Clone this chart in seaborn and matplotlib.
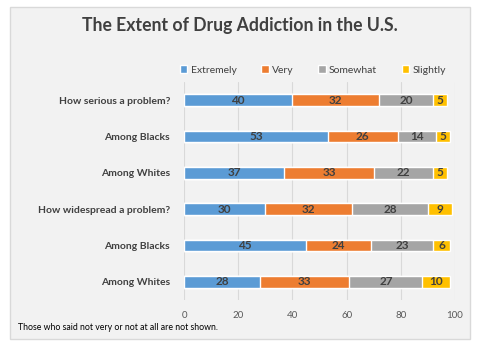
import matplotlib
matplotlib.use('Agg')
import matplotlib.pyplot as plt
import seaborn as sns
import numpy as np
import pandas as pd
from matplotlib.patches import Rectangle, Patch

sns.set_style("white")
plt.rcParams['font.family'] = ['Lato', 'DejaVu Sans']

# -- data --
questions = ["How serious a problem?", "Among Blacks", "Among Whites",
             "How widespread a problem?", "Among Blacks ", "Among Whites "]
levels = ["Extremely", "Very", "Somewhat", "Slightly"]
extremely = [40, 53, 37, 30, 45, 28]
very = [32, 26, 33, 32, 24, 33]
somewhat = [20, 14, 22, 28, 23, 27]
slightly = [5, 5, 5, 9, 6, 10]
colors = ["#5B9BD5", "#ED7D31", "#A5A5A5", "#FFC000"]

df = pd.DataFrame({"q": questions, "Extremely": extremely, "Very": very,
                   "Somewhat": somewhat, "Slightly": slightly})
cum = df[levels].cumsum(axis=1)

fig = plt.figure(figsize=(4.8, 3.5), dpi=100)
fig.patches.append(Rectangle((10/480, 1-339/350), 460/480, 332/350, transform=fig.transFigure,
                             facecolor="#F2F2F2", edgecolor="#D9D9D9", lw=1, zorder=-5))
ax = fig.add_axes([184/480, 1-300/350, 271/480, 218/350])
ax.set_facecolor("none")

# stacked bars: draw cumulative totals from largest to smallest
for lev, col in reversed(list(zip(levels, colors))):
    sns.barplot(x=cum[lev], y=df["q"], color=col, width=0.33, ax=ax,
                saturation=1, orient="h", zorder=3)

# value labels in the middle of each segment
for i in range(len(df)):
    left = 0
    for lev in levels:
        v = df[lev].iloc[i]
        ax.text(left + v/2, i, str(v), ha="center", va="center", fontsize=8.5,
                fontweight="bold", color="#404040", zorder=4)
        left += v

ax.set_xlim(0, 100)
ax.set_ylim(5.5, -0.5)
ax.set_xticks(range(0, 101, 20))
ax.xaxis.grid(True, color="#D9D9D9", lw=0.8, zorder=0)
ax.set_axisbelow(True)
for s in ax.spines.values():
    s.set_visible(False)
ax.set_xlabel("")
ax.set_ylabel("")
ax.tick_params(axis="x", length=0, labelsize=7, labelcolor="#595959", pad=8)
ax.tick_params(axis="y", length=0, labelsize=7.5, labelcolor="#404040", pad=10)
ax.set_yticks(range(len(questions)))
ax.set_yticklabels([q.strip() for q in questions], fontweight="bold")

handles = [Patch(facecolor=c, label=l) for l, c in zip(levels, colors)]
fig.legend(handles=handles, loc="center", bbox_to_anchor=(313/480, 1-70/350), ncol=4,
           frameon=False, fontsize=7.5, handlelength=0.7, handleheight=0.7,
           handletextpad=0.3, columnspacing=2.4, labelcolor="#404040")

fig.text(0.5, 1-26/350, "The Extent of Drug Addiction in the U.S.", ha="center", va="center",
         fontsize=12.7, fontweight="bold", color="#404040")
fig.text(18/480, 1-328/350, "Those who said not very or not at all are not shown.",
         ha="left", va="center", fontsize=6.3, color="#000000")

fig.savefig("out.png", dpi=100, facecolor="white")
